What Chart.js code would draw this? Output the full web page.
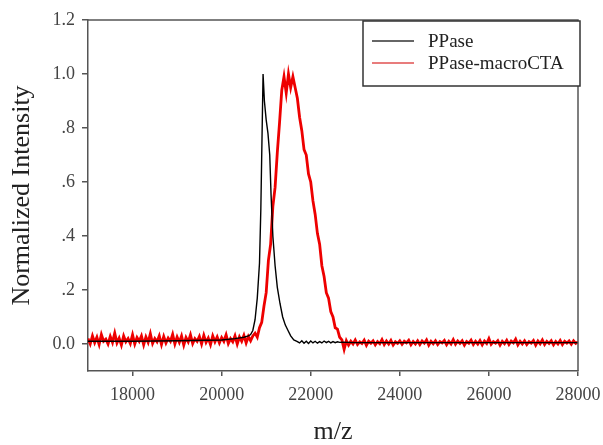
<!DOCTYPE html><html><head><title>MALDI spectrum</title>
<style>html,body{margin:0;padding:0;background:#fff}#chart{display:block}</style>
<script src="https://cdn.jsdelivr.net/npm/chart.js"></script>
</head><body><canvas id="chart" width="603" height="445"></canvas>
<script>
const seriesNames = ['PPase', 'PPase-macroCTA'];
const ppaseMz = [17000, 18000, 19000, 20000, 20300, 20500, 20600, 20650, 20700, 20750, 20800, 20850, 20880, 20910, 20930, 20960, 21000, 21040, 21080, 21110, 21150, 21200, 21250, 21310, 21370, 21430, 21490, 21550, 21620, 21690, 21750, 21800, 21850, 21900, 21950, 22000, 22050, 22100, 22150, 22200, 22250, 22300, 22350, 22400, 22450, 22500, 22550, 22600, 22650, 22700, 23000, 28000];
const ppaseIntensity = [0.01, 0.01, 0.012, 0.015, 0.02, 0.025, 0.03, 0.035, 0.05, 0.09, 0.17, 0.3, 0.5, 0.8, 1.0, 0.9, 0.83, 0.78, 0.7, 0.55, 0.4, 0.29, 0.21, 0.15, 0.1, 0.07, 0.05, 0.03, 0.015, 0.01, 0.004, 0.012, 0.003, 0.01, 0.002, 0.011, 0.004, 0.01, 0.003, 0.009, 0.004, 0.011, 0.005, 0.01, 0.004, 0.009, 0.005, 0.008, 0.006, 0.007, 0.005, 0.005];
// macroCTA trace sampled every 50 m/z from 17000
const macroStart = 17000, macroStep = 50;
const macroIntensity = [
  0.02,0.00,0.03,0.005,0.025,-0.002,0.035,0.01,0.018,0.0,0.028,0.006,0.04,0.004,0.022,-0.004,0.03,0.008,0.02,0.002,
  0.034,0.0,0.024,0.01,0.03,-0.003,0.026,0.006,0.038,0.002,0.02,0.008,0.03,-0.002,0.028,0.004,0.022,0.01,0.036,0.0,
  0.026,0.006,0.03,-0.004,0.024,0.008,0.034,0.002,0.02,0.01,0.028,0.0,0.032,0.006,0.022,-0.002,0.03,0.008,0.026,0.004,
  0.024,0.01,0.034,0.002,0.02,0.008,0.03,0.0,0.026,0.01,0.032,0.004,0.028,0.012,0.03,
  0.04,0.025,0.06,0.08,0.14,0.19,0.31,0.37,0.51,0.58,0.71,0.82,0.94,0.99,0.93,1.0,0.95,0.99,0.95,0.91,
  0.84,0.79,0.72,0.7,0.63,0.6,0.53,0.48,0.41,0.37,0.29,0.25,0.19,0.17,0.12,0.1,0.06,0.055,0.025,0.015,-0.02,
  0.012,-0.004,0.01,0.0,0.015,-0.002,0.008,0.002,0.014,-0.005,
  0.01,0.003,0.012,-0.003,0.009,0.001,0.016,-0.002,0.011,0.0,
  0.013,-0.004,0.008,0.002,0.012,-0.001,0.01,0.004,0.014,-0.003,
  0.009,0.0,0.012,-0.002,0.011,0.003,0.015,-0.004,0.01,0.001,
  0.012,-0.002,0.009,0.004,0.013,-0.003,0.01,0.0,0.016,-0.001,
  0.011,0.002,0.012,-0.004,0.009,0.003,0.014,-0.002,0.01,0.0,
  0.013,-0.003,0.011,0.002,0.02,-0.001,0.009,0.003,0.012,-0.004,
  0.01,0.001,0.014,-0.002,0.011,0.004,0.018,-0.003,0.01,0.0,
  0.012,-0.002,0.009,0.003,0.013,-0.004,0.011,0.001,0.015,-0.002,
  0.01,0.002,0.012,-0.003,0.009,0.0,0.013,-0.002,0.01,0.003,
  0.011,-0.001,0.012,0.002,0.008
];
const xTicks = [18000, 20000, 22000, 24000, 26000, 28000];
const yTicks = [0, 0.2, 0.4, 0.6, 0.8, 1.0, 1.2];
const yTickLabels = ['0.0', '.2', '.4', '.6', '.8', '1.0', '1.2'];
const xTitle = 'm/z', yTitle = 'Normalized Intensity';

const serif = '"Liberation Serif", "DejaVu Serif", serif';
const axisColor = '#555';
const colors = ['#000000', '#ee0000'];

const ppaseData = ppaseMz.map((x, i) => ({ x, y: ppaseIntensity[i] }));
const macroData = macroIntensity.map((y, i) => ({ x: macroStart + i * macroStep, y }));

// frame on top/right plus the boxed legend
const frameAndLegend = {
  id: 'frameAndLegend',
  afterDraw(chart) {
    const { ctx, chartArea: a } = chart;
    ctx.save();
    ctx.strokeStyle = axisColor; ctx.lineWidth = 1.5;
    ctx.beginPath(); ctx.moveTo(a.left, a.top); ctx.lineTo(a.right, a.top); ctx.lineTo(a.right, a.bottom); ctx.stroke();
    const bx = 363, by = 21, bw = 217, bh = 65;
    ctx.fillStyle = '#fff'; ctx.fillRect(bx, by, bw, bh);
    ctx.strokeStyle = '#333'; ctx.strokeRect(bx, by, bw, bh);
    ctx.font = '19px ' + serif; ctx.textBaseline = 'middle'; ctx.textAlign = 'left';
    chart.data.datasets.forEach((ds, i) => {
      const y = 41 + i * 22;
      ctx.strokeStyle = i === 0 ? '#333' : '#e05050'; ctx.lineWidth = 1.5;
      ctx.beginPath(); ctx.moveTo(372, y); ctx.lineTo(414, y); ctx.stroke();
      ctx.fillStyle = '#222'; ctx.fillText(ds.label, 428, y + 1);
    });
    ctx.restore();
  }
};

new Chart(document.getElementById('chart'), {
  type: 'line',
  data: { datasets: [
    { label: seriesNames[0], data: ppaseData, borderColor: colors[0], borderWidth: 1.4, pointRadius: 0, order: 0 },
    { label: seriesNames[1], data: macroData, borderColor: colors[1], borderWidth: 2.8, pointRadius: 0, order: 1 }
  ]},
  options: {
    responsive: false, animation: false, events: [],
    layout: { padding: { top: 20, right: 25, left: 0, bottom: 0 } },
    plugins: { legend: { display: false }, tooltip: { enabled: false } },
    scales: {
      x: {
        type: 'linear', min: 17000, max: 28000,
        afterFit: s => { s.height = 74; s.paddingRight = 0; s.paddingLeft = 0; },
        afterBuildTicks: s => { s.ticks = xTicks.map(v => ({ value: v })); },
        ticks: { font: { family: serif, size: 18 }, color: '#444', padding: 8, maxRotation: 0, callback: v => String(v) },
        grid: { drawOnChartArea: false, tickLength: 5, color: axisColor, lineWidth: 1.5 },
        border: { color: axisColor, width: 1.5 },
        title: { display: true, text: xTitle, font: { family: serif, size: 26, lineHeight: 1 }, color: '#222', padding: { top: 0, bottom: 0 } }
      },
      y: {
        min: -0.1, max: 1.2,
        afterFit: s => { s.width = 88; s.paddingTop = 0; s.paddingBottom = 0; },
        afterBuildTicks: s => { s.ticks = yTicks.map(v => ({ value: v })); },
        ticks: { font: { family: serif, size: 18 }, color: '#444', padding: 7, callback: (v) => yTickLabels[yTicks.findIndex(t => Math.abs(t - v) < 1e-9)] },
        grid: { drawOnChartArea: false, tickLength: 6, color: axisColor, lineWidth: 1.5 },
        border: { color: axisColor, width: 1.5 },
        title: { display: true, text: yTitle, font: { family: serif, size: 26, lineHeight: 1.2 }, color: '#222', padding: { top: 7, bottom: 0 } }
      }
    }
  },
  plugins: [frameAndLegend]
});
</script>
</body>
</html>
